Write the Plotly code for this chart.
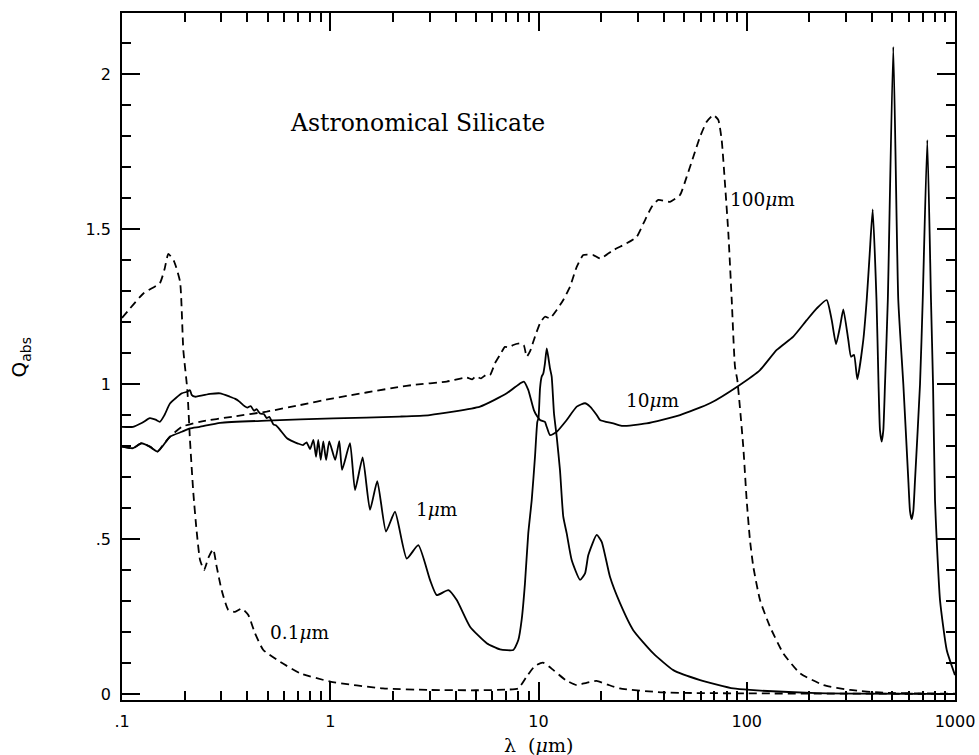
import plotly.graph_objects as go

# Absorption efficiency Q_abs of astronomical silicate spheres vs wavelength (um)

# a = 0.1 um
lam_01 = [0.1, 0.127, 0.152, 0.160, 0.167, 0.178, 0.19, 0.197, 0.206, 0.212,
          0.22, 0.228, 0.237, 0.248, 0.26, 0.274, 0.285, 0.301, 0.324, 0.349,
          0.376, 0.404, 0.435, 0.477, 0.574, 0.716, 1.0, 1.79, 3.0, 5.0,
          7.0, 8.0, 8.77, 9.6, 10.5, 11.8, 13.5, 15.2, 17.0, 19.0,
          21.5, 24.6, 39.7, 100, 1000]
q_01 = [1.213, 1.293, 1.326, 1.37, 1.42, 1.395, 1.33, 1.11, 0.98, 0.82,
        0.65, 0.529, 0.432, 0.40, 0.44, 0.467, 0.41, 0.335, 0.271, 0.265,
        0.276, 0.255, 0.196, 0.142, 0.104, 0.067, 0.04, 0.018, 0.013, 0.012,
        0.014, 0.018, 0.056, 0.09, 0.101, 0.077, 0.045, 0.029, 0.036, 0.042,
        0.03, 0.018, 0.005, 0.002, 0.0005]

# a = 1 um
lam_1 = [0.1, 0.113, 0.125, 0.136, 0.145, 0.152, 0.16, 0.17, 0.194, 0.205,
         0.212, 0.216, 0.224, 0.265, 0.296, 0.33, 0.35, 0.365, 0.382, 0.40,
         0.415, 0.43, 0.443, 0.46, 0.48, 0.495, 0.51, 0.533, 0.55, 0.574,
         0.62, 0.665, 0.70, 0.74, 0.77, 0.80, 0.83, 0.855, 0.876, 0.90,
         0.926, 0.955, 0.989, 1.056, 1.105, 1.14, 1.244, 1.315, 1.431, 1.552,
         1.682, 1.852, 2.046, 2.33, 2.647, 3.013, 3.245, 3.69, 4.05, 4.69,
         5.64, 6.53, 7.57, 8.0, 8.30, 8.61, 8.93, 9.28, 9.62, 9.87,
         10.0, 10.17, 10.36, 10.54, 10.74, 10.95, 11.14, 11.36, 11.57, 11.87,
         12.23, 12.68, 13.15, 13.66, 14.43, 15.83, 16.73, 17.35, 19.03, 20.11,
         22.04, 24.63, 28.5, 35.6, 44.4, 59.7, 86.2, 103.6, 216.8, 1000]
q_1 = [0.862, 0.862, 0.875, 0.89, 0.885, 0.878, 0.90, 0.937, 0.97, 0.975,
       0.98, 0.965, 0.959, 0.968, 0.97, 0.959, 0.952, 0.944, 0.932, 0.924,
       0.929, 0.914, 0.919, 0.905, 0.903, 0.89, 0.894, 0.87, 0.866, 0.852,
       0.825, 0.814, 0.808, 0.803, 0.812, 0.79, 0.82, 0.765, 0.82, 0.755,
       0.815, 0.755, 0.815, 0.755, 0.816, 0.723, 0.809, 0.658, 0.763, 0.594,
       0.687, 0.524, 0.588, 0.437, 0.48, 0.368, 0.319, 0.335, 0.303, 0.217,
       0.164, 0.144, 0.142, 0.174, 0.239, 0.357, 0.518, 0.626, 0.766, 0.878,
       0.89, 0.986, 1.024, 1.034, 1.067, 1.115, 1.088, 1.05, 1.024, 0.905,
       0.83, 0.723, 0.572, 0.518, 0.432, 0.368, 0.389, 0.448, 0.513, 0.491,
       0.378, 0.293, 0.206, 0.131, 0.077, 0.045, 0.018, 0.013, 0.003, 0.0005]

# a = 10 um
lam_10 = [0.1, 0.113, 0.124, 0.136, 0.148, 0.156, 0.17, 0.194, 0.212, 0.236,
          0.296, 0.495, 1.035, 2.16, 3.0, 5.24, 7.04, 8.15, 8.5, 8.93,
          9.5, 9.87, 10.17, 10.74, 10.95, 11.36, 12.23, 13.66, 15.26, 16.73,
          17.68, 19.03, 19.74, 22.87, 25.1, 33.0, 47.8, 66.6, 91.1, 115.8,
          139.3, 167.3, 194.1, 216.8, 242.1, 255.9, 268.4, 280.5, 290.9, 307.4,
          316.7, 327.4, 339.6, 362.8, 376.7, 389.4, 402.5, 419.8, 429.3, 436.3,
          444.6, 452.6, 461.2, 475.8, 505.4, 534.1, 564.7, 596.8, 608, 619.4,
          630.6, 642.7, 679.3, 699.8, 736.2, 766.8, 784.3, 801.6, 816.7, 847.2,
          912.5, 1000]
q_10 = [0.798, 0.793, 0.809, 0.798, 0.782, 0.798, 0.83, 0.846, 0.857, 0.862,
        0.875, 0.882, 0.889, 0.895, 0.9, 0.927, 0.97, 1.002, 1.008, 0.981,
        0.916, 0.895, 0.884, 0.878, 0.862, 0.835, 0.846, 0.884, 0.927, 0.938,
        0.927, 0.9, 0.884, 0.873, 0.865, 0.873, 0.9, 0.938, 0.994, 1.045,
        1.11, 1.153, 1.206, 1.244, 1.271, 1.206, 1.129, 1.185, 1.241, 1.142,
        1.088, 1.094, 1.015, 1.142, 1.271, 1.42, 1.563, 1.271, 1.0, 0.85,
        0.814, 0.85, 1.0, 1.271, 2.088, 1.271, 1.0, 0.69, 0.59, 0.564,
        0.59, 0.69, 1.0, 1.271, 1.787, 1.271, 1.0, 0.626, 0.497, 0.303,
        0.142, 0.061]

# a = 100 um
lam_100 = [0.1, 0.113, 0.124, 0.136, 0.148, 0.156, 0.17, 0.194, 0.236, 0.342,
           0.495, 0.716, 1.035, 2.16, 2.505, 3.625, 4.52, 4.8, 5.0, 5.3,
           5.6, 5.85, 6.18, 6.53, 6.90, 7.2, 7.57, 8.15, 8.5, 8.78,
           9.10, 9.62, 10.17, 10.74, 11.36, 12.23, 13.15, 14.17, 15.26, 16.42,
           18.33, 19.74, 22.87, 26.5, 29.6, 31.9, 35.0, 37.6, 42.8, 47.8,
           51.5, 55.4, 59.7, 64.2, 69.1, 73.0, 75.8, 78.6, 81.6, 84.7,
           87.8, 90.1, 96.2, 99.9, 103.6, 107.5, 115.8, 129.3, 149.8, 180.2,
           233.2, 313.2, 452.6, 1000]
q_100 = [0.798, 0.793, 0.809, 0.798, 0.782, 0.80, 0.83, 0.862, 0.878, 0.895,
         0.911, 0.932, 0.954, 0.991, 0.997, 1.008, 1.021, 1.015, 1.025, 1.018,
         1.03, 1.029, 1.067, 1.094, 1.12, 1.118, 1.126, 1.131, 1.125, 1.088,
         1.105, 1.153, 1.196, 1.217, 1.212, 1.239, 1.271, 1.314, 1.378, 1.416,
         1.416, 1.405, 1.432, 1.454, 1.475, 1.518, 1.572, 1.594, 1.588, 1.61,
         1.669, 1.733, 1.798, 1.846, 1.868, 1.852, 1.787, 1.647, 1.486, 1.271,
         1.056, 1.013, 0.798, 0.626, 0.497, 0.411, 0.303, 0.217, 0.131, 0.067,
         0.029, 0.013, 0.004, 0.001]

x_tickvals = [0.1, 1, 10, 100, 1000]
x_ticktext = [".1", "1", "10", "100", "1000"]
y_tickvals = [0, 0.5, 1, 1.5, 2]
y_ticktext = ["0", ".5", "1", "1.5", "2"]
x_minor = [m * 10.0 ** e for e in range(-1, 3) for m in range(2, 10)]

dashed = "8px,5px"
series = [
    (lam_01, q_01, "0.1μm", dashed),
    (lam_1, q_1, "1μm", "solid"),
    (lam_10, q_10, "10μm", "solid"),
    (lam_100, q_100, "100μm", dashed),
]

fig = go.Figure()
for lam, q, name, dash in series:
    fig.add_trace(go.Scatter(x=lam, y=q, mode="lines", name=name,
                             line=dict(color="black", width=1.8, dash=dash,
                                       shape="spline", smoothing=0.5)))

serif = "DejaVu Serif"
labels = [
    ("Astronomical Silicate", 0.4166, 1.842, "center", 23.5),
    ("100<i>μ</i>m", 1.908, 1.594, "left", 18.5),
    ("10<i>μ</i>m", 1.412, 0.948, "left", 18.5),
    ("1<i>μ</i>m", 0.403, 0.594, "left", 18.5),
    ("0.1<i>μ</i>m", -0.299, 0.197, "left", 18.5),
]
for text, lx, ly, anchor, size in labels:
    fig.add_annotation(x=lx, y=ly, xref="x", yref="y", text=text, showarrow=False,
                       xanchor=anchor, yanchor="middle",
                       font=dict(family=serif, size=size, color="black"))

fig.add_annotation(x=0.5, y=-0.065, xref="paper", yref="paper", text="λ  (<i>μ</i>m)",
                   showarrow=False, xanchor="center", yanchor="middle",
                   font=dict(family=serif, size=19, color="black"))
fig.add_annotation(x=-0.1225, y=0.5, xref="paper", yref="paper",
                   text="Q<sub>abs</sub>", textangle=-90, showarrow=False,
                   xanchor="center", yanchor="middle",
                   font=dict(family="DejaVu Sans", size=20, color="black"))

axis_common = dict(showgrid=False, zeroline=False, showline=True, linecolor="black",
                   linewidth=1.6, mirror="allticks", ticks="inside", ticklen=18,
                   tickwidth=1.5, tickcolor="black", automargin=False,
                   tickfont=dict(family="DejaVu Sans", size=16, color="black"))

fig.update_xaxes(type="log", range=[-1, 3], tickmode="array", tickvals=x_tickvals,
                 ticktext=x_ticktext, ticklabelstandoff=6,
                 minor=dict(tickmode="array", tickvals=x_minor, ticks="inside",
                            ticklen=9, tickwidth=1.5, tickcolor="black", showgrid=False),
                 **axis_common)
fig.update_yaxes(range=[-0.0194, 2.197], tickmode="array", tickvals=y_tickvals,
                 ticktext=y_ticktext, ticklabelstandoff=6,
                 minor=dict(dtick=0.1, tick0=0, ticks="inside", ticklen=9,
                            tickwidth=1.5, tickcolor="black", showgrid=False),
                 **axis_common)

fig.update_layout(width=979, height=755, margin=dict(l=122, r=24, t=13, b=55),
                  paper_bgcolor="white", plot_bgcolor="white", showlegend=False,
                  template="none")

fig.write_html("out.html")
